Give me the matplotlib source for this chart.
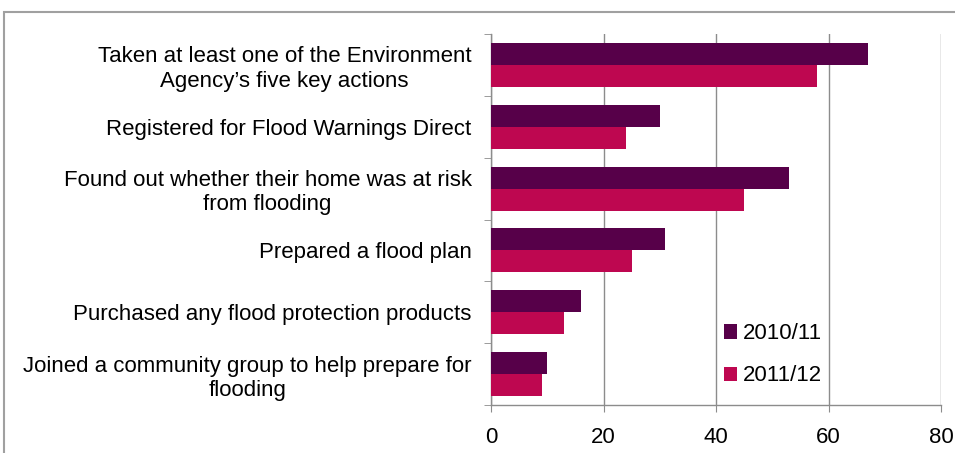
import numpy as np
import matplotlib.pyplot as plt
from matplotlib.patches import Rectangle

plt.rcParams['font.family'] = ['Liberation Sans', 'DejaVu Sans']

categories = [
    "Taken at least one of the Environment\nAgency\u2019s five key actions",
    "Registered for Flood Warnings Direct",
    "Found out whether their home was at risk\nfrom flooding",
    "Prepared a flood plan",
    "Purchased any flood protection products",
    "Joined a community group to help prepare for\nflooding",
]
vals_2010 = [67, 30, 53, 31, 16, 10]
vals_2011 = [58, 24, 45, 25, 13, 9]
series_names = ["2010/11", "2011/12"]
xticks = [0, 20, 40, 60, 80]

c1 = '#570049'
c2 = '#BE0750'
grid_c = '#8c8c8c'

fig = plt.figure(figsize=(9.55, 4.53), dpi=100)
ax = fig.add_axes([491/955, 1 - 405/453, 450/955, 371/453])

y = np.arange(len(categories))
h = 0.355
ax.barh(y - h/2, vals_2010, h, color=c1, label=series_names[0], zorder=3)
ax.barh(y + h/2, vals_2011, h, color=c2, label=series_names[1], zorder=3)

ax.set_xlim(0, 80)
ax.set_ylim(len(categories) - 0.5, -0.5)
ax.set_xticks(xticks)
ax.set_xticklabels([str(t) for t in xticks], fontsize=16)
ax.set_yticks(y)
ax.set_yticklabels(categories, fontsize=16, multialignment='center')
ax.set_yticks(np.arange(len(categories) + 1) - 0.5, minor=True)
ax.tick_params(axis='y', which='major', length=0, pad=14)
ax.tick_params(axis='y', which='minor', length=5, color=grid_c, direction='out')
ax.tick_params(axis='x', length=5, color=grid_c, pad=11)

ax.grid(axis='x', color=grid_c, linewidth=1, zorder=0)
for s in ['top', 'right']:
    ax.spines[s].set_visible(False)
for s in ['left', 'bottom']:
    ax.spines[s].set_color(grid_c)
    ax.spines[s].set_linewidth(1)

ax.legend(loc='upper left', bbox_to_anchor=(0.473, 0.274), frameon=False,
          fontsize=16, handlelength=0.6, handleheight=0.6, handletextpad=0.25,
          labelspacing=0.95)

# outer chart border
fig.patches.append(Rectangle((4/955, -0.1), 1.1, 1 - 12/453 + 0.1,
                             transform=fig.transFigure, fill=False,
                             edgecolor='#a0a0a0', linewidth=1.5, clip_on=False))

fig.savefig('out.png', dpi=100)
